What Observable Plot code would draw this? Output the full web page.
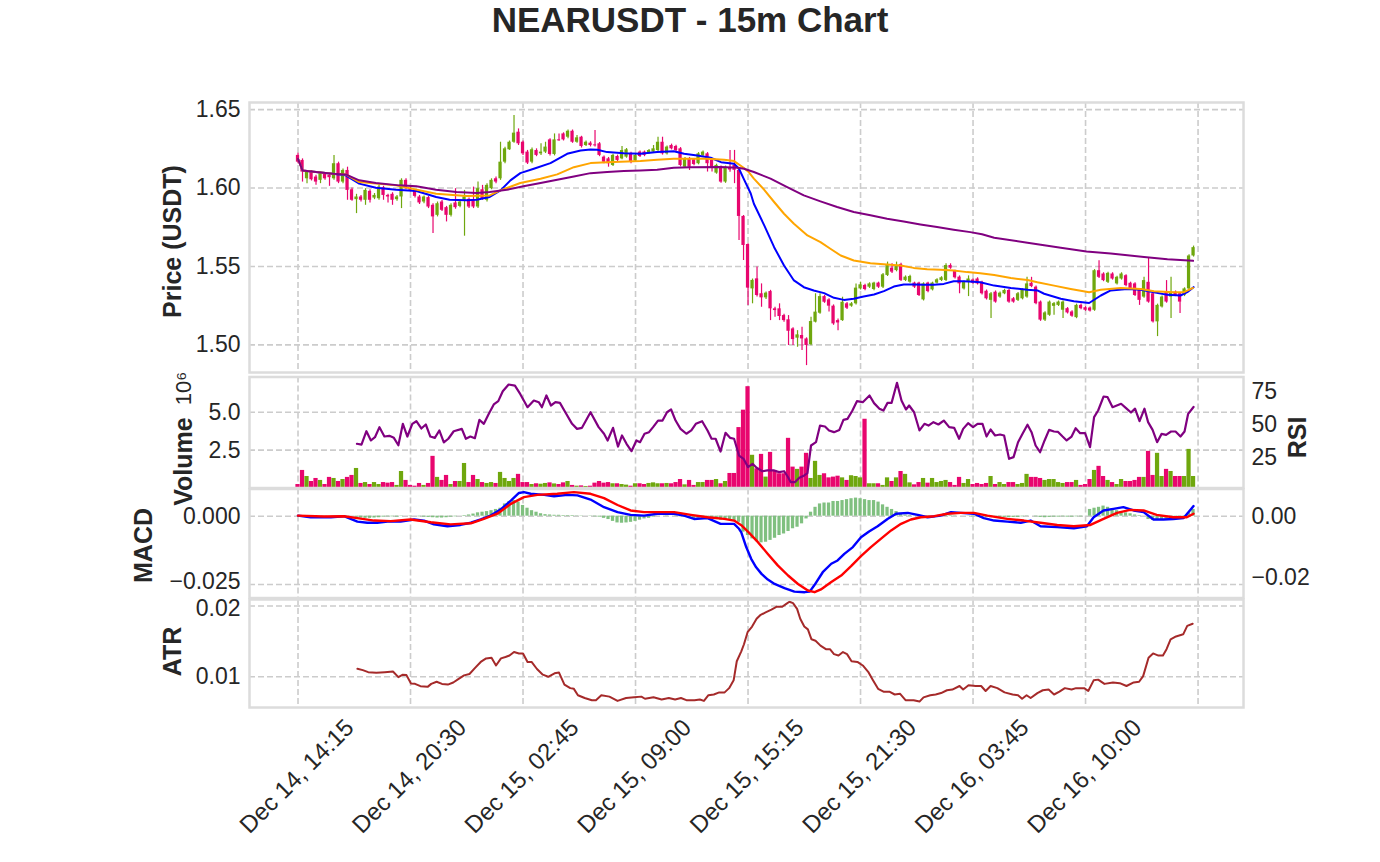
<!DOCTYPE html>
<html><head><meta charset="utf-8">
<script src="https://cdn.jsdelivr.net/npm/d3@7"></script>
<script src="https://cdn.jsdelivr.net/npm/@observablehq/plot@0.6"></script>
<style>
body{margin:0;background:#fff;}
#wrap{position:relative;width:1380px;height:862px;background:#fff;overflow:hidden;font-family:"Liberation Sans",Arial,sans-serif;}
#wrap svg{position:absolute;left:0;top:0;}
#title{position:absolute;left:0;top:0;width:1380px;text-align:center;font-weight:bold;font-size:35px;line-height:39px;color:#262626;}
</style></head><body>
<div id="wrap"><div id="title">NEARUSDT - 15m Chart</div></div>
<script>
// ---- data (15m candles, index 0 = Dec 14 14:15) ----
const open = [1.6208,1.6176,1.6059,1.6102,1.6070,1.6049,1.6087,1.6081,1.6059,1.6155,
1.6038,1.6112,1.5989,1.5926,1.5943,1.5922,1.5979,1.5936,1.5932,1.6002,
1.5953,1.5960,1.5926,1.5943,1.6049,1.5996,1.5981,1.5943,1.5911,1.5939,
1.5890,1.5826,1.5911,1.5875,1.5826,1.5905,1.5883,1.5922,1.5928,1.5926,
1.5879,1.5989,1.5922,1.5996,1.6059,1.6059,1.6165,1.6244,1.6292,1.6356,
1.6292,1.6229,1.6165,1.6239,1.6218,1.6229,1.6307,1.6214,1.6307,1.6345,
1.6324,1.6362,1.6292,1.6324,1.6271,1.6286,1.6275,1.6282,1.6197,1.6186,
1.6144,1.6201,1.6186,1.6197,1.6218,1.6172,1.6229,1.6229,1.6222,1.6229,
1.6239,1.6292,1.6218,1.6271,1.6265,1.6250,1.6133,1.6186,1.6180,1.6155,
1.6208,1.6218,1.6176,1.6095,1.6133,1.6038,1.6128,1.6145,1.6113,1.5819,
1.5640,1.5357,1.5421,1.5326,1.5300,1.5340,1.5230,1.5230,1.5187,1.5160,
1.5102,1.5043,1.5060,1.5038,1.5002,1.5145,1.5202,1.5308,1.5287,1.5247,
1.5155,1.5155,1.5262,1.5247,1.5262,1.5357,1.5379,1.5368,1.5353,1.5394,
1.5368,1.5443,1.5489,1.5474,1.5513,1.5411,1.5400,1.5394,1.5394,1.5287,
1.5394,1.5351,1.5394,1.5411,1.5411,1.5506,1.5468,1.5432,1.5357,1.5400,
1.5414,1.5420,1.5399,1.5342,1.5284,1.5336,1.5305,1.5326,1.5347,1.5294,
1.5284,1.5294,1.5305,1.5393,1.5368,1.5273,1.5158,1.5189,1.5246,1.5252,
1.5221,1.5231,1.5210,1.5174,1.5252,1.5237,1.5235,1.5221,1.5473,1.5452,
1.5399,1.5452,1.5389,1.5420,1.5441,1.5393,1.5389,1.5347,1.5305,1.5399,
1.5326,1.5147,1.5242,1.5336,1.5305,1.5336,1.5326,1.5315,1.5357,1.5567];
const high = [1.6222,1.6186,1.6112,1.6112,1.6081,1.6102,1.6095,1.6091,1.6208,1.6165,
1.6122,1.6133,1.6000,1.5960,1.5953,1.5996,1.5989,1.5965,1.6017,1.6011,
1.5960,1.5970,1.5953,1.6059,1.6059,1.6006,1.5990,1.5953,1.5950,1.5947,
1.5900,1.5911,1.5920,1.5883,1.5900,1.5996,1.5920,1.5985,1.5936,1.6006,
1.6038,1.6017,1.6028,1.6059,1.6070,1.6292,1.6260,1.6300,1.6462,1.6377,
1.6300,1.6240,1.6255,1.6250,1.6282,1.6292,1.6315,1.6345,1.6345,1.6352,
1.6370,1.6370,1.6335,1.6330,1.6300,1.6295,1.6367,1.6290,1.6205,1.6195,
1.6215,1.6210,1.6265,1.6252,1.6228,1.6215,1.6236,1.6236,1.6246,1.6271,
1.6324,1.6324,1.6268,1.6280,1.6272,1.6258,1.6195,1.6195,1.6188,1.6226,
1.6236,1.6226,1.6184,1.6152,1.6140,1.6140,1.6240,1.6240,1.6125,1.5825,
1.5645,1.5420,1.5496,1.5389,1.5338,1.5348,1.5240,1.5262,1.5195,1.5187,
1.5110,1.5091,1.5113,1.5045,1.5177,1.5326,1.5326,1.5315,1.5295,1.5255,
1.5165,1.5304,1.5270,1.5270,1.5389,1.5400,1.5386,1.5396,1.5400,1.5400,
1.5455,1.5528,1.5517,1.5528,1.5520,1.5440,1.5444,1.5400,1.5400,1.5396,
1.5400,1.5400,1.5422,1.5435,1.5517,1.5517,1.5476,1.5440,1.5408,1.5440,
1.5420,1.5428,1.5406,1.5350,1.5334,1.5344,1.5338,1.5355,1.5355,1.5302,
1.5334,1.5358,1.5431,1.5431,1.5375,1.5280,1.5212,1.5280,1.5270,1.5280,
1.5280,1.5238,1.5217,1.5260,1.5260,1.5244,1.5242,1.5480,1.5536,1.5460,
1.5463,1.5460,1.5438,1.5460,1.5448,1.5400,1.5396,1.5354,1.5431,1.5557,
1.5334,1.5260,1.5312,1.5410,1.5431,1.5344,1.5334,1.5364,1.5575,1.5630];
const low = [1.6155,1.6038,1.6028,1.6045,1.6017,1.6028,1.6049,1.6011,1.6049,1.6028,
1.6028,1.5922,1.5915,1.5837,1.5911,1.5890,1.5905,1.5926,1.5922,1.5922,
1.5905,1.5890,1.5915,1.5869,1.5989,1.5975,1.5936,1.5895,1.5900,1.5869,
1.5710,1.5816,1.5850,1.5784,1.5816,1.5865,1.5875,1.5693,1.5869,1.5869,
1.5869,1.5922,1.5911,1.5989,1.6028,1.6049,1.6155,1.6240,1.6285,1.6271,
1.6208,1.6150,1.6155,1.6200,1.6208,1.6220,1.6205,1.6205,1.6299,1.6300,
1.6315,1.6285,1.6285,1.6255,1.6265,1.6262,1.6262,1.6200,1.6155,1.6133,
1.6138,1.6168,1.6180,1.6190,1.6155,1.6165,1.6195,1.6200,1.6215,1.6222,
1.6232,1.6210,1.6210,1.6243,1.6232,1.6135,1.6125,1.6112,1.6142,1.6148,
1.6200,1.6102,1.6102,1.6088,1.6030,1.6030,1.6100,1.6028,1.5666,1.5538,
1.5251,1.5262,1.5305,1.5240,1.5290,1.5155,1.5177,1.5155,1.5145,1.4996,
1.4996,1.4985,1.4964,1.4868,1.4995,1.5140,1.5195,1.5265,1.5209,1.5125,
1.5091,1.5150,1.5226,1.5240,1.5255,1.5350,1.5346,1.5360,1.5346,1.5360,
1.5360,1.5436,1.5456,1.5466,1.5404,1.5404,1.5393,1.5360,1.5308,1.5280,
1.5333,1.5344,1.5388,1.5404,1.5404,1.5482,1.5420,1.5326,1.5350,1.5308,
1.5386,1.5382,1.5318,1.5286,1.5168,1.5266,1.5298,1.5320,1.5266,1.5266,
1.5277,1.5287,1.5298,1.5365,1.5256,1.5150,1.5150,1.5182,1.5189,1.5245,
1.5168,1.5197,1.5176,1.5167,1.5224,1.5214,1.5209,1.5214,1.5424,1.5403,
1.5392,1.5413,1.5382,1.5413,1.5371,1.5350,1.5308,1.5252,1.5298,1.5266,
1.5140,1.5053,1.5235,1.5266,1.5168,1.5308,1.5200,1.5308,1.5350,1.5560];
const close = [1.6165,1.6102,1.6102,1.6053,1.6038,1.6091,1.6059,1.6066,1.6155,1.6038,
1.6112,1.5985,1.5922,1.5943,1.5922,1.5985,1.5922,1.5953,1.6006,1.5953,
1.5943,1.5922,1.5943,1.6049,1.5996,1.5985,1.5947,1.5905,1.5943,1.5879,
1.5816,1.5900,1.5858,1.5826,1.5890,1.5875,1.5911,1.5943,1.5879,1.5879,
1.5996,1.5932,1.6017,1.6049,1.6038,1.6165,1.6250,1.6292,1.6350,1.6282,
1.6218,1.6159,1.6244,1.6208,1.6229,1.6261,1.6214,1.6307,1.6301,1.6307,
1.6362,1.6292,1.6320,1.6265,1.6292,1.6271,1.6269,1.6208,1.6165,1.6155,
1.6208,1.6176,1.6239,1.6244,1.6165,1.6208,1.6201,1.6208,1.6239,1.6250,
1.6292,1.6218,1.6261,1.6250,1.6239,1.6144,1.6186,1.6133,1.6150,1.6218,
1.6229,1.6155,1.6133,1.6144,1.6038,1.6133,1.6115,1.6113,1.5819,1.5634,
1.5362,1.5411,1.5315,1.5300,1.5330,1.5230,1.5219,1.5181,1.5155,1.5087,
1.5034,1.5064,1.5038,1.4996,1.5149,1.5209,1.5308,1.5272,1.5247,1.5134,
1.5140,1.5272,1.5234,1.5262,1.5362,1.5383,1.5353,1.5389,1.5394,1.5368,
1.5447,1.5506,1.5464,1.5506,1.5411,1.5432,1.5436,1.5368,1.5315,1.5389,
1.5340,1.5394,1.5415,1.5428,1.5506,1.5489,1.5428,1.5389,1.5400,1.5420,
1.5393,1.5389,1.5326,1.5294,1.5326,1.5273,1.5330,1.5347,1.5273,1.5273,
1.5326,1.5351,1.5389,1.5372,1.5263,1.5158,1.5204,1.5273,1.5263,1.5273,
1.5273,1.5204,1.5183,1.5252,1.5231,1.5221,1.5216,1.5473,1.5431,1.5410,
1.5456,1.5420,1.5431,1.5452,1.5378,1.5357,1.5315,1.5284,1.5410,1.5273,
1.5147,1.5252,1.5305,1.5273,1.5336,1.5315,1.5273,1.5357,1.5567,1.5620];
// volume in millions
const volume = [0.23,1.16,0.76,0.43,0.63,0.50,0.23,0.70,0.63,0.43,
0.56,0.70,0.83,1.29,0.30,0.36,0.23,0.36,0.23,0.36,
0.32,0.36,0.17,1.09,0.50,0.17,0.12,0.30,0.17,0.30,
2.09,0.70,0.50,0.83,0.23,0.43,0.43,1.62,0.36,0.83,
0.56,0.36,0.30,0.36,0.30,1.03,0.63,0.43,0.63,0.90,
0.36,0.36,0.23,0.28,0.25,0.30,0.34,0.27,0.23,0.34,
0.43,0.17,0.12,0.14,0.10,0.12,0.32,0.43,0.32,0.36,
0.28,0.28,0.23,0.19,0.12,0.28,0.28,0.23,0.30,0.34,
0.28,0.28,0.30,0.28,0.36,0.56,0.21,0.50,0.17,0.36,
0.36,0.50,0.50,0.56,0.28,0.43,0.96,0.96,3.99,5.14,
6.69,2.16,1.27,2.22,0.72,2.35,1.16,0.94,0.94,3.28,
1.38,1.23,1.38,2.29,0.63,1.76,0.83,0.94,0.67,0.72,
0.78,0.67,0.50,0.81,0.76,0.67,4.54,0.28,0.28,0.28,
0.17,0.67,0.43,0.67,1.09,0.90,0.34,0.21,0.36,0.63,
0.32,0.63,0.36,0.43,0.50,0.36,0.17,0.70,0.30,0.56,
0.23,0.30,0.23,0.30,0.76,0.23,0.36,0.23,0.36,0.36,
0.23,0.30,0.90,0.70,0.70,0.63,0.50,0.56,0.56,0.36,
0.30,0.36,0.36,0.50,0.17,0.23,0.56,1.16,1.43,0.76,
0.50,0.36,0.23,0.56,0.43,0.43,0.50,0.70,0.70,2.42,
0.83,2.29,0.76,1.23,1.09,0.76,0.76,0.76,2.55,0.76];
const macdHist = [0,0.0001,0,-0.0001,0,0,0,0,0,0,
0.0001,0.0001,0,-0.0004,-0.0006,-0.0007,-0.0007,-0.0006,-0.0005,-0.0003,
-0.0002,-0.0002,-0.0003,-0.0001,0,0.0001,0,-0.0002,-0.0003,-0.0004,
-0.0005,-0.0006,-0.0006,-0.0005,-0.0003,-0.0002,0,0.0002,0.0004,0.0007,
0.0011,0.0013,0.0015,0.0018,0.0022,0.0026,0.0040,0.0048,0.0051,0.0046,
0.0035,0.0026,0.0018,0.0013,0.0008,0.0005,0.0004,0.0003,0.0003,0.0002,
0.0002,0.0002,0.0001,0.0001,0,-0.0001,-0.0002,-0.0003,-0.0007,-0.0011,
-0.0017,-0.0022,-0.0023,-0.0022,-0.0020,-0.0017,-0.0013,-0.0009,-0.0007,-0.0003,
0,0,0.0001,0,-0.0001,-0.0002,-0.0003,-0.0007,-0.0009,-0.0007,
-0.0006,-0.0007,-0.0009,-0.0011,-0.0013,-0.0014,-0.0012,-0.0014,-0.0020,-0.0052,
-0.0063,-0.0074,-0.0083,-0.0087,-0.0085,-0.0079,-0.0072,-0.0063,-0.0058,-0.0050,
-0.0041,-0.0036,-0.0025,-0.0009,0.0013,0.0029,0.0040,0.0043,0.0043,0.0048,
0.0048,0.0051,0.0054,0.0057,0.0059,0.0057,0.0054,0.0051,0.0051,0.0046,
0.0037,0.0029,0.0022,0.0015,0.0008,0.0004,0.0002,0.0001,-0.0001,-0.0002,
-0.0001,0,0.0001,0.0002,0.0003,0.0002,0.0001,0,0,-0.0001,
-0.0002,-0.0003,-0.0004,-0.0004,-0.0005,-0.0005,-0.0004,-0.0004,-0.0005,-0.0004,
-0.0004,-0.0002,0.0001,0,-0.0002,-0.0004,-0.0005,-0.0004,-0.0003,-0.0003,
-0.0002,-0.0003,-0.0003,-0.0002,-0.0002,0,0.0022,0.0026,0.0029,0.0033,
0.0029,0.0024,0.0018,0.0015,0.0011,0.0008,0.0004,0.0002,0,-0.0011,
-0.0014,-0.0013,-0.0011,-0.0009,-0.0007,-0.0006,-0.0005,0.0002,0.0011,0.0022];
// moving averages (candle index, price)
const blueI = [0,1,4,7.7,10.6,13.6,17.3,21.8,26.3,30.7,33.7,37.4,39.7,42.6,45,47.2,49.4,52.4,56.1,59.8,62.8,65,66.5,68.7,72.4,76.1,79.8,83.5,85.8,88.7,91.7,94,96.9,98,99.1,100.6,101.3,103.6,105.8,108,110.2,112.4,114.6,116.9,119.1,121.3,123.5,125.7,128,130.2,132.4,134.6,136.8,139.1,141.3,143.5,145.7,147.9,150.1,151.6,154.7,158.4,162.1,164.3,165.8,169.5,172.4,175.8,178.4,180.6,184.3,187.3,190.2,193.2,196.1,197.6,199];
const blueV = [1.6186,1.6112,1.6102,1.6091,1.6081,1.6028,1.6002,1.5989,1.5981,1.5943,1.5926,1.5922,1.5926,1.5943,1.5985,1.6049,1.6095,1.6123,1.6159,1.6218,1.6239,1.6246,1.6244,1.6229,1.6222,1.6218,1.6229,1.6235,1.6218,1.6208,1.6193,1.6165,1.6155,1.6123,1.6055,1.5965,1.5900,1.5762,1.5623,1.5506,1.5411,1.5368,1.5347,1.5330,1.5300,1.5287,1.5294,1.5308,1.5321,1.5343,1.5372,1.5385,1.5385,1.5383,1.5383,1.5389,1.5406,1.5406,1.5402,1.5400,1.5378,1.5363,1.5351,1.5347,1.5326,1.5294,1.5279,1.5267,1.5315,1.5347,1.5357,1.5351,1.5336,1.5319,1.5315,1.5336,1.5368];
const orangeI = [0,1,4,7.7,10.6,13.6,21.8,30.7,37.4,42.6,45,49.4,53.9,57.6,61.3,65,68.7,76.1,79.8,83.5,87.2,90.9,94.7,96.9,99.1,100.2,101.3,103.6,105.8,108,110.2,113.2,116.1,118.3,120.6,123.5,127.2,130.9,133.9,136.8,139.8,142.8,145.7,148.7,151.6,154.7,158.4,162.1,164.3,168,171.7,175.8,178.4,182.8,187.3,190.2,194.7,196.9,198.9];
const orangeV = [1.6186,1.6112,1.6102,1.6091,1.6087,1.6038,1.6017,1.5964,1.5950,1.5953,1.5985,1.6032,1.6059,1.6087,1.6133,1.6159,1.6165,1.6172,1.6180,1.6186,1.6186,1.6186,1.6180,1.6172,1.6128,1.6100,1.6060,1.5989,1.5911,1.5836,1.5772,1.5698,1.5655,1.5613,1.5570,1.5538,1.5521,1.5513,1.5506,1.5491,1.5483,1.5479,1.5474,1.5464,1.5457,1.5445,1.5426,1.5414,1.5399,1.5378,1.5357,1.5336,1.5351,1.5363,1.5357,1.5342,1.5336,1.5336,1.5363];
const purpleI = [0,1,4,7.7,10.6,13.6,17.3,22.5,26.3,30.7,35.2,39.7,42.6,46.4,50.1,53.9,57.6,61.3,65,68.7,72.4,76.1,79.8,83.5,87.2,94,97.7,99.1,101.3,105,108.7,112.4,116.1,119.8,123.5,127.2,130.9,134.6,138.3,142,145.7,149.4,152,154.7,162.1,169.5,175.2,180.6,188,193.2,198.9];
const purpleV = [1.6186,1.6112,1.6102,1.6091,1.6087,1.6049,1.6032,1.6017,1.6011,1.5989,1.5975,1.5968,1.5975,1.5989,1.6011,1.6032,1.6053,1.6074,1.6095,1.6102,1.6108,1.6112,1.6117,1.6129,1.6133,1.6134,1.6130,1.6123,1.6102,1.6060,1.6006,1.5953,1.5915,1.5879,1.5847,1.5826,1.5804,1.5787,1.5768,1.5751,1.5734,1.5719,1.5705,1.5683,1.5651,1.5620,1.5595,1.5582,1.5561,1.5546,1.5536];
const rsiI = [13.1,14.1,15.2,16.2,17.1,18.1,19.2,20.3,21.3,22.3,23.3,24.3,25.4,26.3,27.4,28.4,29.4,30.4,31.4,32.4,33.4,34.6,36.4,37.3,38.3,39.3,40.3,41.3,42.4,43.5,44.5,45.5,46.8,48.2,49.4,51,52.4,53.5,54.2,55.2,56.2,57.2,58.2,59.4,60.9,62,63.1,65,66.8,68,68.8,70,71.1,72,73,74.1,75.2,76,77,78,78.9,80,81,82,82.9,83.9,85,86.3,87.4,88.4,89.8,91,91.9,92.8,93.9,95,96,96.9,98,99,100,101,101.9,103.2,104.3,105.8,106.9,108,108.8,109.5,110.4,111.4,112.5,113.2,114,115.1,116,117.1,118,119.1,120.3,121.2,122.1,123.2,124.2,125.5,127,128,129.2,130.1,131,131.9,133.1,134.1,135.1,135.8,136.9,138.1,139.2,140.1,141.2,142.3,143.5,144.7,145.8,146.9,147.8,148.9,150,151,152.1,153,153.9,154.9,156,156.9,158,159,160,161,162.1,163,163.9,164.9,165.9,166.9,168,168.9,169.9,170.8,171.9,172.8,173.8,174.9,176,176.9,177.8,179,179.9,181,182.9,184,185.1,186,187,188.1,188.9,189.9,190.9,191.9,192.9,194,195,196.1,197,197.8,199];
const rsiV = [35.4,34.8,44.9,37.9,40.4,48,40.9,41.4,39.9,34.3,50.5,40.9,50.5,52.5,47,50,40.9,39.9,45.5,36.4,39.2,44.9,46.7,39.2,40.9,39.6,53.5,50.5,58.1,65.2,67.7,75.2,80.3,79.5,73,63.1,68.2,66.9,63.1,72,64.4,66.9,66.4,59.3,50.5,46.7,47.5,59.3,48,43,37.9,47.5,33.3,41.7,35.4,29.8,37.9,36.6,43,44.2,48,53,53,59.3,61.4,53,46.7,43,45.5,50.5,52.5,45.5,39.2,39.2,29.5,43.7,39.9,39.2,26.5,24,17.7,20.2,17.2,14.6,15.2,15.2,13.9,14.6,10.6,6.3,6.3,9.6,11.4,13.1,34.1,36.6,49.2,48.5,45.5,44.2,45.9,53.5,54.3,60.6,67.7,66.9,72,66.2,62,60.6,66.4,66.4,81.6,68.2,61.4,64.4,59.3,45.5,50.5,49.2,51.8,50,53,48,47.5,39.2,46.7,51,48,50.5,50.5,40.9,46.2,41.7,42.4,41.7,24,25.3,36.6,43,49.8,44.2,34.1,29,37.9,45.9,44.7,44.4,40.9,37.9,40.9,47.2,43.4,43.4,32.8,55.6,60.6,71.2,70.7,63.1,65.7,62.4,59.1,62,52.5,62,51.8,45.9,36.6,42.9,42.2,44.7,44.7,40.9,44.7,58.1,63.3];
const macdI = [0,2.8,7.3,10.2,13.2,15.4,17.6,19.9,22.8,25.8,28,30.2,33.2,36.1,38.4,40.6,42.8,45,47.3,49.1,50.2,51.7,54.7,56.9,59.9,62.1,65,68,71,73.9,76.9,79.9,83.6,85.8,88,91,93.9,96.9,98,98.5,99.6,100.7,101.8,103,104.4,105.9,108.1,110.3,112.6,113.7,114.8,116.6,118.5,119.9,121.4,123.3,125.1,126.9,128.8,131,132.9,135.5,137.7,139.9,142.8,145.1,147.3,150.2,152.4,154.7,157.6,160.6,162.8,165,168.7,172.4,175.3,176.8,179,181.2,183.4,185.7,187.9,190.1,192.3,194.5,196.8,197.9,199];
const macdV = [0.0002,-0.0004,-0.0004,0,-0.002,-0.0024,-0.0024,-0.002,-0.002,-0.0012,-0.0016,-0.003,-0.0037,-0.0032,-0.0024,-0.0012,0.0002,0.0024,0.0057,0.0085,0.0088,0.0082,0.0078,0.0073,0.0078,0.0076,0.0061,0.0033,0.0015,0.0005,0.0002,0.0009,0.0009,0.0002,-0.001,-0.0007,-0.0028,-0.0028,-0.0046,-0.0059,-0.0113,-0.0156,-0.0187,-0.0211,-0.0232,-0.0248,-0.0263,-0.0276,-0.0278,-0.0276,-0.0251,-0.0205,-0.0174,-0.0162,-0.0138,-0.0113,-0.0077,-0.0056,-0.0037,-0.001,0.0009,0.0012,0.0005,-0.0004,0.0002,0.0015,0.0012,0.0009,-0.0007,-0.0016,-0.002,-0.0024,-0.0016,-0.0037,-0.004,-0.0044,-0.0037,-0.0004,0.0021,0.0027,0.0033,0.0021,0.0015,-0.0012,-0.0012,-0.001,-0.0007,0.0015,0.0037];
const signalI = [0,5.8,10.2,13.2,16.9,20.6,25,29.5,33.9,38.4,41.3,44.3,47.3,50.2,53.2,57.6,61.3,65,68,71,73.9,76.9,79.9,83.6,87.3,91,94.7,96.9,98.5,100.2,102.2,104.4,106.6,108.9,111.1,113.3,114.8,116.2,118.5,120.7,122.9,125.1,127.3,129.5,131.8,134,136.2,138.4,141.4,144.3,147.3,150.2,153.2,157.6,161.3,165,168.7,172.4,176.1,179,182,184.9,187.9,190.8,194.5,197.5,199];
const signalV = [0.0002,-0.0001,0,-0.0007,-0.0016,-0.0018,-0.0012,-0.0022,-0.003,-0.0026,-0.001,0.0009,0.0045,0.007,0.0078,0.0082,0.0088,0.0082,0.0066,0.0041,0.0021,0.0015,0.0015,0.0015,0.0005,-0.0004,-0.001,-0.0016,-0.0033,-0.006,-0.0095,-0.0138,-0.018,-0.0217,-0.0248,-0.0272,-0.0278,-0.0268,-0.0241,-0.0217,-0.0183,-0.0146,-0.0113,-0.0083,-0.0052,-0.0028,-0.0012,-0.0004,0,0.0009,0.0012,0.0012,0.0002,-0.001,-0.0016,-0.0024,-0.0032,-0.0037,-0.0032,-0.001,0.0012,0.0023,0.0021,0.0005,-0.0004,-0.0004,0.0009];
const atrI = [13.2,14.4,15.6,17.4,19.3,21.1,22.3,23.2,24.1,25.1,26,27.2,28.8,29.6,30.8,32,33.3,34.5,35.7,36.9,38.1,39.4,40.6,41.8,43,44,45.1,46.1,47,48,49.1,50,51,51.9,53.1,54.4,55.6,57,58,59.2,60.5,61.3,62.2,63.7,65.3,66.2,67.4,69.2,71,72.9,74.7,76.3,77.1,79,80.8,82.4,83.8,85.1,86.3,88.1,89.3,90.2,91.2,92.4,93.6,94.8,95.8,96.8,97.5,98.5,99.1,99.9,100.9,101.9,102.7,103.9,105.2,106.4,107.6,108.5,109.2,110,110.9,111.6,112.5,113.3,114.1,115,116.1,117.3,118.2,119.1,120.1,121.1,122,123,124.3,125.5,126.7,127.7,128.9,130.1,131.4,132.6,133.8,135,136.8,138.1,139,140.5,141.7,142.9,144.2,145.4,147,147.8,149,150.6,151.8,152.8,153.9,155.4,157,158.8,160,160.9,161.9,162.8,164.3,165.5,166.8,168,169.2,170.4,171.9,172.9,174.7,175.6,176.8,177.8,179.2,181.1,182.6,184.1,185.7,186.9,187.8,189,190,191.2,192.2,193,193.9,195.1,196.7,197.6,198.8];
const atrV = [0.01113,0.01094,0.01066,0.01057,0.01066,0.01075,0.00995,0.01028,0.01024,0.00906,0.00901,0.00868,0.00858,0.0090,0.0093,0.0090,0.0089,0.0092,0.0097,0.0102,0.0104,0.0113,0.0121,0.0126,0.0127,0.0116,0.0126,0.0128,0.0130,0.0135,0.0133,0.0133,0.0121,0.0121,0.0111,0.0103,0.0100,0.0105,0.0106,0.0089,0.0084,0.0083,0.0074,0.0070,0.0067,0.0067,0.0074,0.0072,0.0066,0.0070,0.0071,0.0072,0.0069,0.0071,0.0068,0.0070,0.0068,0.0070,0.0067,0.0067,0.0068,0.0066,0.0074,0.0075,0.0078,0.0078,0.0084,0.0095,0.0122,0.0136,0.0146,0.0163,0.0171,0.0182,0.0187,0.0191,0.0195,0.0199,0.0199,0.0203,0.0206,0.0204,0.0196,0.0182,0.0171,0.0167,0.0153,0.0151,0.0144,0.0139,0.0139,0.0132,0.0130,0.0135,0.0132,0.0122,0.0121,0.0116,0.0107,0.0096,0.0083,0.0079,0.0079,0.0075,0.0076,0.0067,0.0067,0.0065,0.0071,0.0074,0.0075,0.0077,0.0081,0.0082,0.0087,0.0082,0.0088,0.0087,0.0087,0.0080,0.0087,0.0084,0.0078,0.0075,0.0074,0.0069,0.0074,0.0070,0.0077,0.0081,0.0082,0.0075,0.0079,0.0084,0.0082,0.0084,0.0084,0.0080,0.0095,0.0096,0.0090,0.0092,0.0091,0.0087,0.0092,0.0093,0.0101,0.0127,0.0133,0.0130,0.0130,0.0139,0.0153,0.0157,0.0160,0.0172,0.0175];
const xTickIdx = [0,25,50,75,100,125,150,175];
const xTickLabels = ["Dec 14, 14:15","Dec 14, 20:30","Dec 15, 02:45","Dec 15, 09:00","Dec 15, 15:15","Dec 15, 21:30","Dec 16, 03:45","Dec 16, 10:00"];
const xGridIdx = [0,25,50,75,100,125,150,175,200];
const priceTicks = [1.50,1.55,1.60,1.65];
const volTicks = [2.5,5.0];
const rsiTicks = [25,50,75];
const macdTicks = [0,-0.025];
const histTicks = [0,-0.02];
const atrTicks = [0.01,0.02];

// ---- build ----
const UP = "#6fa70e", DOWN = "#e8066e";
const candles = open.map((o,i)=>({i, o, h: high[i], l: low[i], c: close[i], v: volume[i], hist: macdHist[i], col: close[i] >= o ? UP : DOWN}));
const pairs = (I,V) => d3.zip(I,V);
const W = 1380, H = 862, ML = 249, MR = 137;
const XD = [-10.78, 210.1];
const TXT = "#262626";
const FONT = "'Liberation Sans', Arial, Helvetica, sans-serif";
const TICK = 23;
const GRID = {stroke: "#cccccc", strokeWidth: 1.6, strokeDasharray: "6,3"};
const frame = () => Plot.frame({stroke: "#dcdcdc", strokeWidth: 2.5});
const xGrid = () => Plot.ruleX(xGridIdx, {x: d => d, ...GRID});
const yGrid = (t) => Plot.ruleY(t, {y: d => d, ...GRID});
const leftTicks = (t, f, dy = 0) => Plot.text(t, {y: d => d, text: f, frameAnchor: "left", dx: -9, dy, textAnchor: "end", fontSize: TICK, fill: TXT});
const rightTicks = (t, f) => Plot.text(t, {y: d => d, text: f, frameAnchor: "right", dx: 8, textAnchor: "start", fontSize: TICK, fill: TXT});
const yLabel = (s, anchor, dx, dy, bold=true, size=25) => Plot.text([s], {text: d => d, frameAnchor: anchor, dx, dy, rotate: -90, textAnchor: "middle", lineAnchor: "middle", fontSize: size, fontWeight: bold ? "bold" : "normal", fill: TXT});
const lineOf = (I, V, color, w) => Plot.line(pairs(I,V), {x: d => d[0], y: d => d[1], stroke: color, strokeWidth: w, strokeLinejoin: "round"});

function mk(top, bottom, domain, marks) {
  return Plot.plot({
    width: W, height: H, marginLeft: ML, marginRight: MR, marginTop: top, marginBottom: H - bottom,
    x: {type: "linear", domain: XD, axis: null},
    y: {type: "linear", domain, axis: null},
    style: {background: "transparent", fontFamily: FONT, color: TXT, overflow: "visible"},
    marks
  });
}
const wrap = document.getElementById("wrap");
const add = (el) => wrap.appendChild(el);

// Price panel
add(mk(102, 372, [1.48241, 1.65453], [
  xGrid(), yGrid(priceTicks),
  Plot.ruleX(candles, {x: "i", y1: "l", y2: "h", stroke: "col", strokeWidth: 1.2}),
  Plot.rect(candles, {x1: d => d.i - 0.36, x2: d => d.i + 0.36, y1: "o", y2: "c", fill: "col"}),
  lineOf(blueI, blueV, "blue", 2),
  lineOf(orangeI, orangeV, "orange", 2),
  lineOf(purpleI, purpleV, "purple", 2),
  frame(),
  leftTicks(priceTicks, d => d3.format(".2f")(d)),
  yLabel("Price (USDT)", "left", -77, 4)
]));

// Volume panel (left axis)
add(mk(376.5, 487.5, [0, 7.33], [
  xGrid(), yGrid(volTicks),
  Plot.rect(candles, {x1: d => d.i - 0.47, x2: d => d.i + 0.47, y1: () => 0, y2: "v", fill: "col"}),
  leftTicks(volTicks, d => d3.format(".1f")(d)),
  yLabel("Volume", "left", -66, 29),
  yLabel("10\u2076", "left", -66, -44, false, 22)
]));
// RSI (right axis)
add(mk(376.5, 487.5, [1.89, 86.0], [
  lineOf(rsiI, rsiV, "purple", 2.2),
  rightTicks(rsiTicks, d => String(d)),
  yLabel("RSI", "right", 54, 5),
  frame()
]));

// MACD panel
add(mk(488.5, 597.5, [-0.02993, 0.00995], [
  xGrid(), yGrid(macdTicks),
  leftTicks([macdTicks[0]], d => d3.format(".3f")(d)),
  leftTicks([macdTicks[1]], d => d3.format(".3f")(d), -3),
  yLabel("MACD", "left", -106, 2)
]));
add(mk(488.5, 597.5, [-0.02669, 0.00887], [
  Plot.rect(candles, {x1: d => d.i - 0.36, x2: d => d.i + 0.36, y1: () => 0, y2: "hist", fill: "#80c080"}),
  rightTicks(histTicks, d => d3.format(".2f")(d))
]));
add(mk(488.5, 597.5, [-0.02993, 0.00995], [
  lineOf(macdI, macdV, "blue", 2.4),
  lineOf(signalI, signalV, "red", 2.4),
  frame()
]));

// ATR panel
add(mk(599, 707, [0.005664, 0.02092], [
  xGrid(), yGrid(atrTicks),
  lineOf(atrI, atrV, "brown", 2),
  frame(),
  leftTicks([atrTicks[0]], d => d3.format(".2f")(d)),
  leftTicks([atrTicks[1]], d => d3.format(".2f")(d), 3),
  yLabel("ATR", "left", -77, -2),
  Plot.text(xTickIdx, {x: d => d, text: (d, i) => xTickLabels[i], frameAnchor: "bottom", dy: 69, dx: -1, rotate: -45, fontSize: 24, textAnchor: "middle", lineAnchor: "middle", fill: TXT})
]));
</script>
</body></html>
